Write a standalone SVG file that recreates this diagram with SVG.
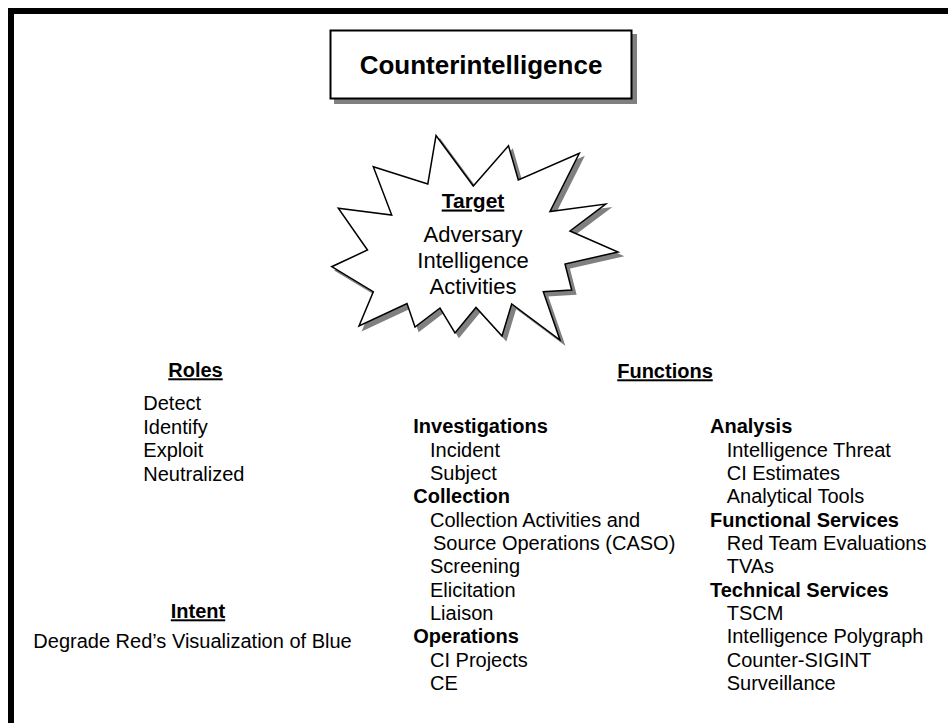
<svg xmlns="http://www.w3.org/2000/svg" width="948" height="723" viewBox="0 0 948 723">
<defs>
<style>
text{font-family:"Liberation Sans",Arial,sans-serif;fill:#000}
.b{font-size:20px}
.bold{font-weight:bold}
.u{text-decoration:underline}
.c{text-anchor:middle}
.shadow{fill:#808080;stroke:#808080}
</style>
</defs>
<rect width="948" height="723" fill="#fff"/>
<g id="frame"><path d="M11,723 V11 H948" fill="none" stroke="#000" stroke-width="6"/></g>

<g id="title">
<rect x="335" y="35" width="301" height="68" class="shadow" stroke-width="2"/>
<rect x="330.5" y="30.5" width="301" height="68" fill="#fff" stroke="#000" stroke-width="2"/>
<text x="481" y="73.5" class="c bold" font-size="26">Counterintelligence</text>
</g>

<g id="target">
<polygon transform="translate(4,4)" class="shadow" stroke-width="1.5" points="436,135.5 473.3,186 508.5,145.7 518.3,180 579.3,153.3 550,211.5 605.7,204 570,231 618,252 565,264 571.7,290 543.3,291.7 560,340 511.7,304 502,336 476,307.5 455,333 440,308 415,327 407,303.5 359,326 373.3,291.7 331.7,266.7 367.5,250 338.3,208.3 391.7,215 373.3,166.7 427.8,184"/>
<polygon fill="#fff" stroke="#000" stroke-width="1.5" stroke-linejoin="miter" points="436,135.5 473.3,186 508.5,145.7 518.3,180 579.3,153.3 550,211.5 605.7,204 570,231 618,252 565,264 571.7,290 543.3,291.7 560,340 511.7,304 502,336 476,307.5 455,333 440,308 415,327 407,303.5 359,326 373.3,291.7 331.7,266.7 367.5,250 338.3,208.3 391.7,215 373.3,166.7 427.8,184"/>
<text x="473" y="207.5" class="c bold u" font-size="21">Target</text>
<text x="473" y="241.5" class="c" font-size="22">Adversary</text>
<text x="473" y="268" class="c" font-size="22">Intelligence</text>
<text x="473" y="293.5" class="c" font-size="22">Activities</text>
</g>

<g id="roles">
<text x="195.5" y="377.3" class="c bold u b">Roles</text>
<text x="143.3" y="410" class="b">Detect</text>
<text x="143.3" y="433.5" class="b">Identify</text>
<text x="143.3" y="457" class="b">Exploit</text>
<text x="143.3" y="480.5" class="b">Neutralized</text>
</g>

<g id="intent">
<text x="198" y="618.3" class="c bold u b">Intent</text>
<text x="192.5" y="648.3" class="c b">Degrade Red’s Visualization of Blue</text>
</g>

<g id="functions">
<text x="665" y="378.3" class="c bold u b">Functions</text>
</g>

<g id="functions-col1">
<text x="413.3" y="433.3" class="bold b">Investigations</text>
<text x="430" y="456.7" class="b">Incident</text>
<text x="430" y="480" class="b">Subject</text>
<text x="413.3" y="503.3" class="bold b">Collection</text>
<text x="430" y="526.7" class="b">Collection Activities and</text>
<text x="433" y="550" class="b">Source Operations (CASO)</text>
<text x="430" y="573.3" class="b">Screening</text>
<text x="430" y="596.7" class="b">Elicitation</text>
<text x="430" y="620" class="b">Liaison</text>
<text x="413.3" y="643.3" class="bold b">Operations</text>
<text x="430" y="666.7" class="b">CI Projects</text>
<text x="430" y="690" class="b">CE</text>
</g>

<g id="functions-col2">
<text x="710" y="433.3" class="bold b">Analysis</text>
<text x="726.7" y="456.7" class="b">Intelligence Threat</text>
<text x="726.7" y="480" class="b">CI Estimates</text>
<text x="726.7" y="503.3" class="b">Analytical Tools</text>
<text x="710" y="526.7" class="bold b">Functional Services</text>
<text x="726.7" y="550" class="b">Red Team Evaluations</text>
<text x="726.7" y="573.3" class="b">TVAs</text>
<text x="710" y="596.7" class="bold b">Technical Services</text>
<text x="726.7" y="620" class="b">TSCM</text>
<text x="726.7" y="643.3" class="b">Intelligence Polygraph</text>
<text x="726.7" y="666.7" class="b">Counter-SIGINT</text>
<text x="726.7" y="690" class="b">Surveillance</text>
</g>
</svg>
